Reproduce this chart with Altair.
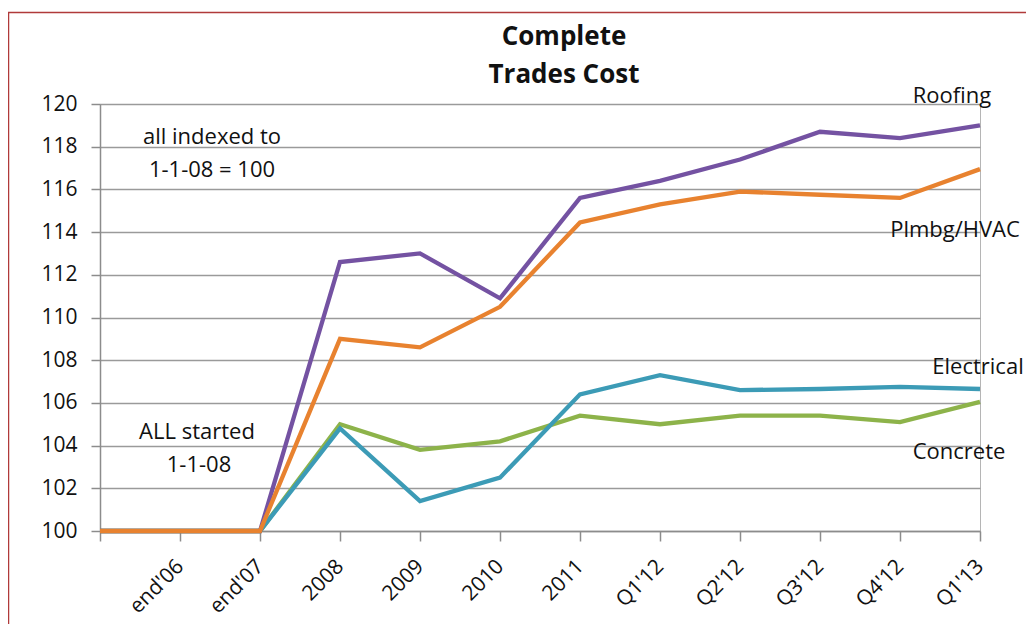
import altair as alt
import pandas as pd

# ---- data ----
categories = ["start", "end'06", "end'07", "2008", "2009", "2010", "2011",
              "Q1'12", "Q2'12", "Q3'12", "Q4'12", "Q1'13"]
roofing = [100, 100, 100, 112.6, 113.0, 110.9, 115.6, 116.4, 117.4, 118.7, 118.4, 119.0]
plumbing = [100, 100, 100, 109.0, 108.6, 110.5, 114.45, 115.3, 115.9, 115.75, 115.6, 116.95]
electrical = [100, 100, 100, 104.8, 101.4, 102.5, 106.4, 107.3, 106.6, 106.65, 106.75, 106.65]
concrete = [100, 100, 100, 105.0, 103.8, 104.2, 105.4, 105.0, 105.4, 105.4, 105.1, 106.05]
y_ticks = [100, 102, 104, 106, 108, 110, 112, 114, 116, 118, 120]
title_lines = ["Complete", "Trades Cost"]

# draw order: concrete, electrical, roofing, plumbing (last on top)
series = [
    ("Concrete", concrete, "#8DB34A"),
    ("Electrical", electrical, "#3C9BB6"),
    ("Roofing", roofing, "#7452A2"),
    ("Plmbg/HVAC", plumbing, "#E8822F"),
]

# text annotations (anchored to categories / values)
ann_text = ["Roofing", "Plmbg/HVAC", "Electrical", "Concrete",
            "all indexed to", "1-1-08 = 100", "ALL started", "1-1-08"]
ann_cat = ["Q1'13", "Q1'13", "Q1'13", "Q1'13", "end'06", "end'06", "end'06", "end'06"]
ann_val = [120.37, 114.1, 107.68, 103.7, 118.45, 116.9, 104.64, 103.1]
ann_dx = [-28, -25, -2, -21, 32, 32, 17, 19]

FONT = "Open Sans"
FS = 21

x_scale = alt.Scale(type="point", padding=0, domain=categories)
y_scale = alt.Scale(domain=[100, 120], nice=False, zero=False)

x_axis = alt.Axis(
    title=None, labelAngle=315, labelAlign="right", labelBaseline="middle",
    labelPadding=22, tickSize=10, tickColor="#8c8c8c", tickWidth=1.5,
    domainColor="#8c8c8c", domainWidth=1.5, grid=False,
    labelFont=FONT, labelFontSize=FS, labelColor="#111111",
    labelExpr="datum.value == 'start' ? '' : datum.value",
)
y_axis = alt.Axis(
    title=None, values=y_ticks, tickSize=9, tickColor="#8c8c8c", tickWidth=1.5,
    domainColor="#8c8c8c", domainWidth=1.5, grid=True, gridColor="#9a9a9a",
    gridWidth=1.5, labelFont=FONT, labelFontSize=FS, labelColor="#111111",
    labelPadding=14,
)


def X():
    return alt.X("cat:O", sort=categories, scale=x_scale, axis=x_axis)


def Y():
    return alt.Y("val:Q", scale=y_scale, axis=y_axis)


layers = []
for name, vals, col in series:
    df = pd.DataFrame({"cat": categories, "val": vals})
    layers.append(
        alt.Chart(df).mark_line(color=col, strokeWidth=4.3, strokeJoin="miter")
        .encode(x=X(), y=Y())
    )

for t, c, v, d in zip(ann_text, ann_cat, ann_val, ann_dx):
    layers.append(
        alt.Chart(pd.DataFrame({"text": [t], "cat": [c], "val": [v]})).mark_text(
            font=FONT, fontSize=22, color="#111111", align="center",
            baseline="middle", dx=d, clip=False)
        .encode(x=X(), y=Y(), text="text:N")
    )

# two-line bold title
one = pd.DataFrame({"a": [0]})
for line, yy in zip(title_lines, [-59, -21]):
    layers.append(
        alt.Chart(one).mark_text(
            text=line, font=FONT, fontSize=26, fontWeight="bold",
            color="#111111", align="center", baseline="alphabetic")
        .encode(x=alt.value(464), y=alt.value(yy))
    )

# thin dark-red frame around the figure (left and top edges visible)
frame_left = alt.Chart(one).mark_rule(
    color="#B03A3A", strokeWidth=1.5).encode(
    x=alt.value(-91.5), y=alt.value(-92), y2=alt.value(540))
frame_top = alt.Chart(one).mark_rule(
    color="#B03A3A", strokeWidth=1.5).encode(
    y=alt.value(-91.5), x=alt.value(-92), x2=alt.value(940))

chart = alt.layer(*layers, frame_left, frame_top).properties(
    width=880, height=427,
    padding={"left": 92, "top": 96, "right": 46, "bottom": 93},
    autosize=alt.AutoSizeParams(type="none"),
    background="white",
).configure_view(stroke="#b5b5b5", strokeWidth=1)

chart.save("out.html", embed_options={"renderer": "svg", "actions": False})
